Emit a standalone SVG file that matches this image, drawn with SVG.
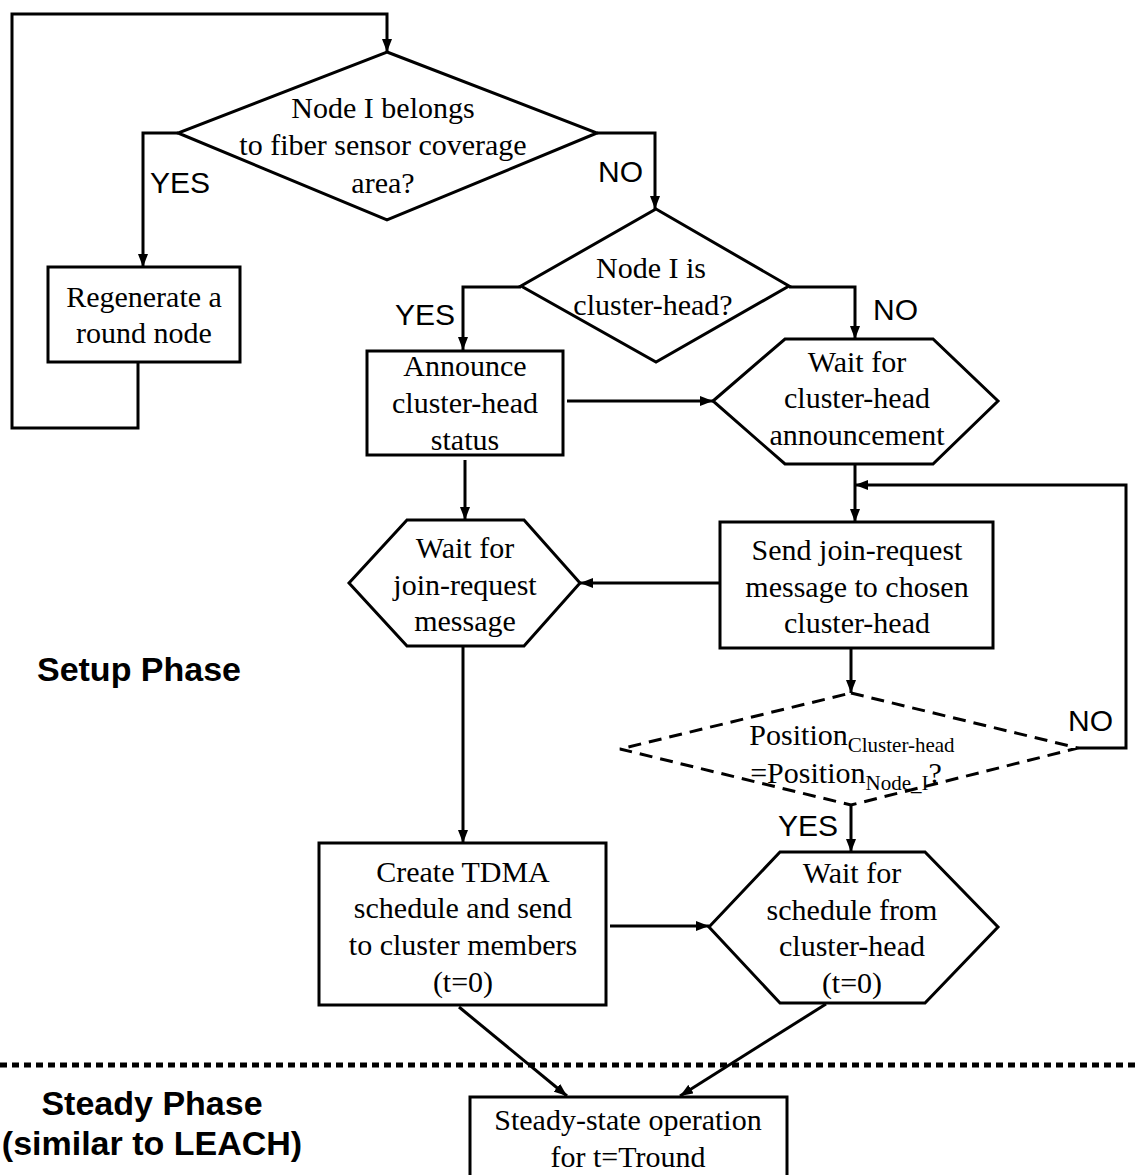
<svg xmlns="http://www.w3.org/2000/svg" width="1138" height="1175" viewBox="0 0 1138 1175">
<defs>
<marker id="ah" markerUnits="userSpaceOnUse" markerWidth="14" markerHeight="10" refX="13" refY="5" orient="auto">
<path d="M0,0 L13,5 L0,10 z" fill="#000"/>
</marker>
<style>
.node{fill:#fff;stroke:#000;stroke-width:3}
.dash{fill:#fff;stroke:#000;stroke-width:3;stroke-dasharray:13 8}
.conn{fill:none;stroke:#000;stroke-width:3}
.arr{marker-end:url(#ah)}
.t{font-family:"Liberation Serif","Times New Roman",serif;font-size:30px;text-anchor:middle;fill:#000}
.lab{font-family:"Liberation Sans",Arial,sans-serif;font-size:30px;fill:#000}
.phase{font-family:"Liberation Sans",Arial,sans-serif;font-size:34px;font-weight:bold;text-anchor:middle;fill:#000}
</style>
</defs>
<rect width="1138" height="1175" fill="#fff"/>
<g id="connectors">
<path class="conn arr" d="M138,362 V428 H12 V14 H387 V52"/>
<path class="conn arr" d="M178,133 H143 V267"/>
<path class="conn arr" d="M597,133 H655 V209"/>
<path class="conn arr" d="M521,287 H463 V350"/>
<path class="conn arr" d="M789,287 H855 V339"/>
<path class="conn arr" d="M567,401 H713"/>
<path class="conn arr" d="M465,460 V520"/>
<path class="conn arr" d="M855,464 V522"/>
<path class="conn arr" d="M1078,748 H1126 V485 H855"/>
<path class="conn arr" d="M720,583 H580"/>
<path class="conn arr" d="M851,648 V693"/>
<path class="conn arr" d="M851,805 V852"/>
<path class="conn arr" d="M463,646 V843"/>
<path class="conn arr" d="M610,926 H709"/>
<path class="conn arr" d="M459,1007 L567,1096"/>
<path class="conn arr" d="M826,1004 L680,1096"/>
<path d="M0,1065 H1138" fill="none" stroke="#000" stroke-width="5" stroke-dasharray="7 5"/>
<text class="lab" x="150" y="193">YES</text>
<text class="lab" x="598" y="182">NO</text>
<text class="lab" x="395" y="325">YES</text>
<text class="lab" x="873" y="320">NO</text>
<text class="lab" x="1068" y="731">NO</text>
<text class="lab" x="778" y="836">YES</text>
</g>
<g id="d1">
<polygon class="node" points="387,52 597,133 387,220 178,133"/>
<text class="t" x="383" y="118">Node I belongs</text>
<text class="t" x="383" y="155">to fiber sensor coverage</text>
<text class="t" x="383" y="193">area?</text>
</g>
<g id="regen">
<rect class="node" x="48" y="267" width="192" height="95"/>
<text class="t" x="144" y="307">Regenerate a</text>
<text class="t" x="144" y="343">round node</text>
</g>
<g id="d2">
<polygon class="node" points="656,209 789,286 656,362 521,286"/>
<text class="t" x="651" y="278">Node I is</text>
<text class="t" x="653" y="315">cluster-head?</text>
</g>
<g id="announce">
<rect class="node" x="367" y="351" width="196" height="104"/>
<text class="t" x="465" y="376">Announce</text>
<text class="t" x="465" y="413">cluster-head</text>
<text class="t" x="465" y="450">status</text>
</g>
<g id="waitAnn">
<polygon class="node" points="713,401 785,339 933,339 998,401 933,464 785,464"/>
<text class="t" x="857" y="372">Wait for</text>
<text class="t" x="857" y="408">cluster-head</text>
<text class="t" x="857" y="445">announcement</text>
</g>
<g id="waitJoin">
<polygon class="node" points="349,583 407,520 524,520 580,583 524,646 407,646"/>
<text class="t" x="465" y="558">Wait for</text>
<text class="t" x="465" y="595">join-request</text>
<text class="t" x="465" y="631">message</text>
</g>
<g id="send">
<rect class="node" x="720" y="522" width="273" height="126"/>
<text class="t" x="857" y="560">Send join-request</text>
<text class="t" x="857" y="597">message to chosen</text>
<text class="t" x="857" y="633">cluster-head</text>
</g>
<g id="d3">
<polygon class="dash" points="851,693 1078,748 851,805 620,749"/>
<text class="t" x="852" y="745">Position<tspan font-size="21" dy="7">Cluster-head</tspan></text>
<text class="t" x="846" y="783">=Position<tspan font-size="21" dy="7">Node_I</tspan><tspan dy="-7">?</tspan></text>
</g>
<g id="create">
<rect class="node" x="319" y="843" width="287" height="162"/>
<text class="t" x="463" y="882">Create TDMA</text>
<text class="t" x="463" y="918">schedule and send</text>
<text class="t" x="463" y="955">to cluster members</text>
<text class="t" x="463" y="992">(t=0)</text>
</g>
<g id="waitSched">
<polygon class="node" points="709,927 780,852 925,852 998,927 925,1003 780,1003"/>
<text class="t" x="852" y="883">Wait for</text>
<text class="t" x="852" y="920">schedule from</text>
<text class="t" x="852" y="956">cluster-head</text>
<text class="t" x="852" y="993">(t=0)</text>
</g>
<g id="steady">
<rect class="node" x="470" y="1097" width="317" height="95"/>
<text class="t" x="628" y="1130">Steady-state operation</text>
<text class="t" x="628" y="1167">for t=Tround</text>
</g>
<g id="phases">
<text class="phase" x="139" y="681">Setup Phase</text>
<text class="phase" x="152" y="1115">Steady Phase</text>
<text class="phase" x="152" y="1155">(similar to LEACH)</text>
</g>
</svg>
